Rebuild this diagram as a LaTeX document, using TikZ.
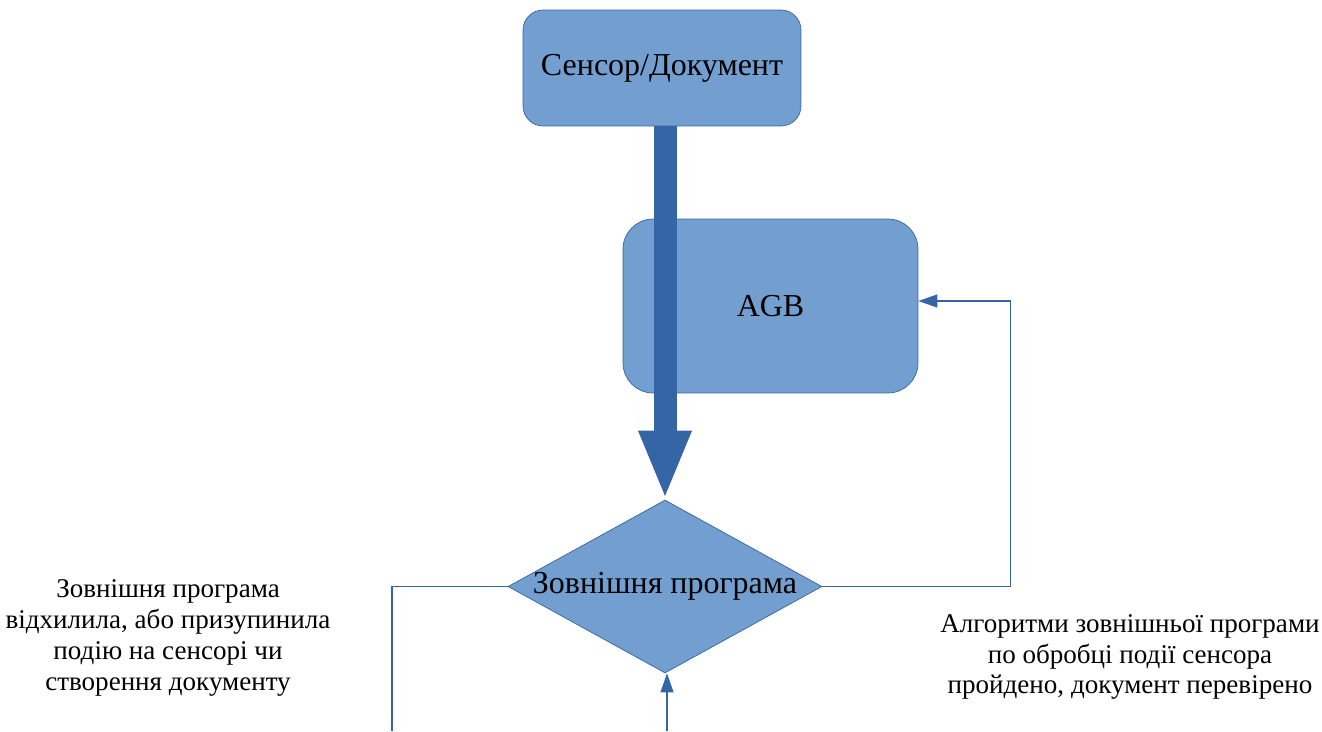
\documentclass[tikz,border=0pt]{standalone}
\usepackage{fontspec}
\setmainfont{Liberation Serif}
\usetikzlibrary{shapes.geometric, arrows.meta, positioning, calc}
\definecolor{boxfill}{RGB}{114,159,207}
\definecolor{boxline}{RGB}{52,101,164}

\begin{document}
\begin{tikzpicture}[
  x=0.02cm, y=-0.02cm,
  startstop/.style={rectangle, rounded corners=0.4cm, minimum width=5.56cm, minimum height=2.32cm,
    text centered, draw=boxline, fill=boxfill, font=\fontsize{18.2}{21}\selectfont},
  process/.style={rectangle, rounded corners=0.6cm, minimum width=5.9cm, minimum height=3.48cm,
    text centered, draw=boxline, fill=boxfill, font=\fontsize{18.2}{21}\selectfont},
  decision/.style={diamond, aspect=1.815, minimum width=6.28cm, minimum height=3.46cm, inner sep=0pt,
    text centered, draw=boxline, fill=boxfill, font=\fontsize{18.2}{21}\selectfont},
  note/.style={align=center, font=\fontsize{15.4}{17.6}\selectfont},
  bigarrow/.style={-{Triangle[length=1.38cm, width=0.96cm]}, line width=0.46cm, draw=boxline},
  arrow/.style={-{Triangle[length=0.38cm, width=0.26cm]}, line width=0.6pt, draw=boxline},
  line/.style={line width=0.6pt, draw=boxline}
]
\useasboundingbox (0,0) rectangle (1322,731);

\node (sensor) [startstop] at (662,68) {\raisebox{-0.06cm}{Сенсор/Документ}};
\node (agb) [process] at (770.5,306) {AGB};
\node (decide) [decision] at (665,586.5) {\makebox[0pt]{\raisebox{-0.08cm}{Зовнішня програма}}};

\node (reject) [note] at (168,638) {Зовнішня програма\\відхилила, або призупинила\\подію на сенсорі чи\\створення документу};
\node (accept) [note] at (1130,657) {Алгоритми зовнішньої програми\\по обробці події сенсора\\пройдено, документ перевірено};

\coordinate (rejectEnd) at (392,731);
\coordinate (backStart) at (667,731);

\draw [bigarrow] (sensor.south -| decide.north) -- (decide.north);
\draw [arrow] (decide.east) -- ++(188,0) |- ($(agb.east)+(0,-5)$);
\draw [line] (decide.west) -| (rejectEnd);
\draw [arrow] (backStart) -- (backStart |- decide.south);

\end{tikzpicture}
\end{document}
